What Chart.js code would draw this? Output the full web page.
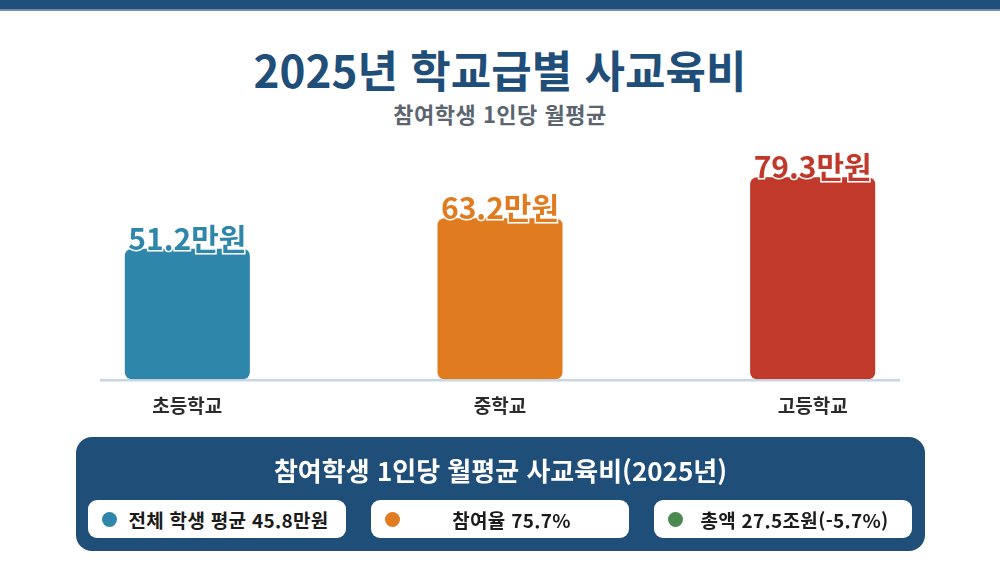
<!DOCTYPE html>
<html lang="ko">
<head>
<meta charset="utf-8">
<script src="https://cdn.jsdelivr.net/npm/chart.js@4"></script>
<style>
  html, body { margin: 0; padding: 0; background: #fff; }
  body { width: 1000px; height: 583px; position: relative; overflow: hidden;
         font-family: "Noto Sans CJK KR", "Noto Sans", sans-serif; }
  .topbar { position: absolute; left: 0; top: 0; width: 1000px; height: 9px; background: #1f4e79;
            border-bottom: 2px solid #6f8fb0; }
  h1 { position: absolute; left: 0; top: 38px; width: 1000px; margin: 0; text-align: center;
       font-size: 44px; font-weight: 700; color: #1f4e79; line-height: 62px; }
  .sub { position: absolute; left: 0; top: 98px; width: 1000px; text-align: center;
         font-size: 22px; font-weight: 700; color: #5a6570; line-height: 30px; letter-spacing: 0.5px; }
  .chartbox { position: absolute; left: 31px; top: 140px; width: 938px; height: 298px; }
  .summary { position: absolute; left: 76px; top: 437px; width: 849px; height: 114px;
             background: #1f4e79; border-radius: 16px; }
  .summary h2 { margin: 0; position: absolute; top: 15px; left: 0; width: 100%; text-align: center;
                color: #fff; font-size: 26px; font-weight: 700; line-height: 36px; }
  .pill { position: absolute; top: 63px; width: 258px; height: 38px; background: #fff; border-radius: 9px;
          display: flex; align-items: center; box-sizing: border-box; padding-left: 14px; padding-right: 12px; }
  .dot { width: 15px; height: 15px; border-radius: 50%; flex: none; margin-right: 6px; }
  .pill span { flex: 1; text-align: center; font-size: 19px; font-weight: 700; color: #1b1b1b;
               white-space: nowrap; letter-spacing: 0.3px; }
</style>
</head>
<body>
<div class="topbar"></div>
<h1>2025년 학교급별 사교육비</h1>
<div class="sub">참여학생 1인당 월평균</div>
<div class="chartbox"><canvas id="schoolCost"></canvas></div>
<div class="summary">
  <h2 id="sumTitle"></h2>
  <div id="pills"></div>
</div>
<script>
// 학교급별 참여학생 1인당 월평균 사교육비 (만원)
var levels = ["초등학교", "중학교", "고등학교"];
var costs = [51.2, 63.2, 79.3];
var barColors = ['#2e86ab', '#e07b20', '#c0392b'];

var summaryTitle = "참여학생 1인당 월평균 사교육비(2025년)";
var summaryItems = ["전체 학생 평균 45.8만원", "참여율 75.7%", "총액 27.5조원(-5.7%)"];
var summaryColors = ['#2e86ab', '#e07b20', '#4a8a50'];

document.getElementById('sumTitle').textContent = summaryTitle;
var pillsEl = document.getElementById('pills');
summaryItems.forEach(function (txt, i) {
    var p = document.createElement('div');
    p.className = 'pill';
    p.style.left = (12 + i * 283) + 'px';
    p.innerHTML = '<div class="dot" style="background:' + summaryColors[i] + '"></div><span></span>';
    p.querySelector('span').textContent = txt;
    pillsEl.appendChild(p);
});

// value labels on top of bars + baseline
var barLabels = {
    id: 'barLabels',
    beforeDatasetsDraw: function (chart) {
        var ctx = chart.ctx, area = chart.chartArea;
        var y0 = chart.scales.y.getPixelForValue(0);
        ctx.save();
        ctx.strokeStyle = '#c8d6e5';
        ctx.lineWidth = 2.5;
        ctx.beginPath();
        ctx.moveTo(area.left + 69, y0 + 1);
        ctx.lineTo(area.right - 69, y0 + 1);
        ctx.stroke();
        ctx.restore();
    },
    afterDatasetsDraw: function (chart) {
        var ctx = chart.ctx;
        var meta = chart.getDatasetMeta(0);
        ctx.save();
        ctx.font = '700 30px "Noto Sans CJK KR", sans-serif';
        ctx.textAlign = 'center';
        ctx.textBaseline = 'alphabetic';
        meta.data.forEach(function (bar, i) {
            var txt = costs[i].toFixed(1) + '만원';
            ctx.lineWidth = 3;
            ctx.strokeStyle = '#fff';
            ctx.strokeText(txt, bar.x, bar.y + 1);
            ctx.fillStyle = barColors[i];
            ctx.fillText(txt, bar.x, bar.y + 1);
        });
        ctx.restore();
    }
};

var costCtx = document.getElementById('schoolCost').getContext('2d');
var costChart = new Chart(costCtx, {
    type: 'bar',
    data: {
        labels: levels,
        datasets: [{
            data: costs,
            backgroundColor: barColors,
            borderRadius: 7,
            borderSkipped: false,
            barPercentage: 0.4,
            categoryPercentage: 1.0
        }]
    },
    options: {
        responsive: true,
        maintainAspectRatio: false,
        animation: false,
        layout: { padding: { top: 10, bottom: 6, left: 0, right: 0 } },
        plugins: {
            legend: { display: false },
            tooltip: { enabled: false }
        },
        scales: {
            x: {
                grid: { display: false, drawTicks: false },
                border: { display: false },
                ticks: {
                    padding: 15,
                    color: '#2b2b2b',
                    font: { family: '"Noto Sans CJK KR", sans-serif', size: 19, weight: '700' }
                }
            },
            y: {
                display: false,
                min: 0,
                max: 90
            }
        }
    },
    plugins: [barLabels]
});
</script>
</body>
</html>
